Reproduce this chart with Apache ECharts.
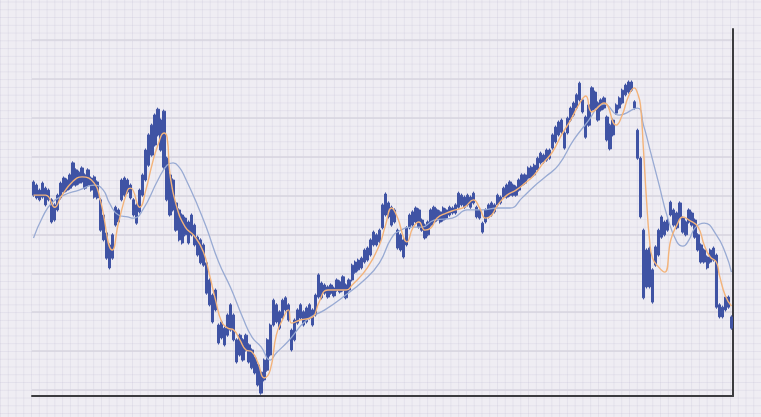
<!DOCTYPE html>
<html>
<head>
<meta charset="utf-8">
<script src="https://cdn.jsdelivr.net/npm/echarts@6/dist/echarts.min.js"></script>
<style>
html,body{margin:0;padding:0;}
body{
  width:761px;height:417px;overflow:hidden;
  background-color:#efedf3;
  background-image:
    linear-gradient(to right, rgba(190,186,210,0.24) 1px, transparent 1px),
    linear-gradient(to bottom, rgba(190,186,210,0.24) 1px, transparent 1px);
  background-size:7.78px 7.78px;
  background-position:0px 1.5px;
}
#chart{width:761px;height:417px;}
</style>
</head>
<body>
<div id="chart"></div>
<script>
// candle values: [open, close, low, high]
const candles = [
[53.5,50.1,49.7,53.9],[49.4,52.7,49.0,53.1],[51.4,48.9,48.5,51.8],[49.6,53.2,49.2,53.6],[51.9,47.6,47.2,52.3],
[48.9,51.4,48.5,51.8],[48.9,43.2,42.8,49.3],[43.7,47.6,43.3,48.0],[46.3,50.1,45.9,50.5],[49.4,53.2,49.0,53.6],
[50.9,54.5,50.5,54.9],[54.0,51.4,51.0,54.4],[51.9,55.3,51.5,55.7],[52.7,58.4,52.3,58.8],[56.6,52.7,52.3,57.0],
[53.2,56.0,52.8,56.4],[53.5,57.1,53.1,57.5],[55.3,51.9,51.5,55.7],[52.7,56.6,52.3,57.0],[54.5,51.4,51.0,54.9],
[49.6,54.8,49.2,55.2],[53.5,49.4,49.0,53.9],[48.9,41.1,40.7,49.3],[45.0,38.6,38.2,45.4],[40.4,33.9,33.5,40.8],
[37.3,31.4,31.0,37.7],[33.9,39.9,33.5,40.3],[42.4,47.0,42.0,47.4],[46.3,43.2,42.8,46.7],[48.9,54.0,48.5,54.4],
[50.1,54.5,49.7,54.9],[54.0,50.9,50.5,54.4],[52.7,49.4,49.0,53.1],[48.9,45.0,44.6,49.3],[47.6,42.9,42.5,48.0],
[45.8,51.4,45.4,51.8],[50.1,55.3,49.7,55.7],[54.0,61.7,53.6,62.1],[57.8,65.6,57.4,66.0],[60.4,68.1,60.0,68.5],
[63.0,70.7,62.6,71.1],[65.6,72.2,65.2,72.6],[69.4,61.7,61.3,69.8],[57.3,71.7,56.9,72.1],[59.6,48.9,48.5,60.0],
[55.3,45.0,44.6,55.7],[46.3,54.0,45.9,54.4],[48.1,41.1,40.7,48.5],[46.3,38.6,38.2,46.7],[37.8,45.0,37.4,45.4],
[44.2,39.9,39.5,44.6],[37.8,43.2,37.4,43.6],[39.9,45.0,39.5,45.4],[42.4,37.3,36.9,42.8],[39.3,34.7,34.3,39.7],
[38.6,32.7,32.3,39.0],[32.1,37.3,31.7,37.7],[32.7,24.9,24.5,33.1],[28.3,21.9,21.5,28.7],[24.4,17.5,17.1,24.8],
[20.6,25.7,20.2,26.1],[16.7,12.1,11.7,17.1],[13.4,17.5,13.0,17.9],[15.9,11.6,11.2,16.3],[14.1,19.3,13.7,19.7],
[15.4,21.9,15.0,22.3],[19.3,12.9,12.5,19.7],[12.9,7.2,6.8,13.3],[9.0,14.1,8.6,14.5],[12.9,7.7,7.3,13.3],
[10.3,14.1,9.9,14.5],[11.6,7.2,6.8,12.0],[10.3,5.7,5.3,10.7],[8.2,4.4,4.0,8.6],[6.4,1.3,0.9,6.8],
[4.6,-0.8,-1.2,5.0],[2.6,7.7,2.2,8.1],[5.1,12.9,4.7,13.3],[9.0,16.7,8.6,17.1],[16.7,23.1,16.3,23.5],
[21.9,17.5,17.1,22.3],[15.9,20.1,15.5,20.5],[18.5,23.1,18.1,23.5],[20.6,23.7,20.2,24.1],[21.9,18.0,17.6,22.3],
[15.4,10.3,9.9,15.8],[12.9,18.0,12.5,18.4],[17.2,20.6,16.8,21.0],[18.5,21.9,18.1,22.3],[20.1,16.7,16.3,20.5],
[17.5,21.1,17.1,21.5],[18.5,21.9,18.1,22.3],[20.6,16.7,16.3,21.0],[19.3,24.4,18.9,24.8],[23.9,29.6,23.5,30.0],
[27.5,23.7,23.3,27.9],[24.9,27.0,24.5,27.4],[26.5,23.9,23.5,26.9],[24.9,27.0,24.5,27.4],[26.2,24.2,23.8,26.6],
[25.7,28.3,25.3,28.7],[27.8,25.2,24.8,28.2],[25.7,29.1,25.3,29.5],[27.0,23.7,23.3,27.4],[25.7,28.3,25.3,28.7],
[28.3,32.1,27.9,32.5],[30.3,32.9,29.9,33.3],[30.9,33.4,30.5,33.8],[31.4,33.9,31.0,34.3],[32.9,36.0,32.5,36.4],
[36.5,33.4,33.0,36.9],[34.7,38.6,34.3,39.0],[37.3,40.6,36.9,41.0],[39.9,37.3,36.9,40.3],[38.1,41.1,37.7,41.5],
[41.7,47.6,41.3,48.0],[45.0,50.4,44.6,50.8],[48.1,44.5,44.1,48.5],[42.4,47.0,42.0,47.4],[46.3,43.2,42.8,46.7],
[41.1,36.5,36.1,41.5],[39.9,36.0,35.6,40.3],[38.6,34.2,33.8,39.0],[37.3,41.7,36.9,42.1],[41.7,45.0,41.3,45.4],
[42.4,45.8,42.0,46.2],[43.2,46.8,42.8,47.2],[46.3,41.9,41.5,46.7],[43.7,41.1,40.7,44.1],[42.4,39.1,38.7,42.8],
[39.9,43.2,39.5,43.6],[42.4,46.3,42.0,46.7],[43.2,47.0,42.8,47.4],[46.3,43.7,43.3,46.7],[43.2,45.8,42.8,46.2],
[43.7,46.8,43.3,47.2],[46.3,44.2,43.8,46.7],[45.0,47.0,44.6,47.4],[46.8,45.5,45.1,47.2],[45.5,47.6,45.1,48.0],
[47.0,50.6,46.6,51.0],[50.1,47.6,47.2,50.5],[47.0,49.6,46.6,50.0],[47.6,50.1,47.2,50.5],[49.6,47.0,46.6,50.0],
[48.1,50.6,47.7,51.0],[47.0,44.5,44.1,47.4],[46.3,44.2,43.8,46.7],[42.9,40.6,40.2,43.3],[43.2,46.3,42.8,46.7],
[44.5,47.6,44.1,48.0],[45.0,48.1,44.6,48.5],[47.6,45.8,45.4,48.0],[47.6,50.1,47.2,50.5],[48.1,49.6,47.7,50.0],
[49.6,51.9,49.2,52.3],[49.6,52.7,49.2,53.1],[50.1,53.5,49.7,53.9],[52.7,50.1,49.7,53.1],[50.1,52.2,49.7,52.6],
[51.4,54.0,51.0,54.4],[52.7,55.3,52.3,55.7],[55.3,53.2,52.8,55.7],[54.5,57.1,54.1,57.5],[54.8,57.3,54.4,57.7],
[57.8,55.3,54.9,58.2],[56.6,59.6,56.2,60.0],[58.4,60.9,58.0,61.3],[60.4,58.6,58.2,60.8],[59.1,61.7,58.7,62.1],
[61.7,59.6,59.2,62.1],[62.2,65.6,61.8,66.0],[63.8,67.6,63.4,68.0],[65.6,68.9,65.2,69.3],[66.3,69.4,65.9,69.8],
[66.1,62.2,61.8,66.5],[66.1,69.9,65.7,70.3],[69.4,72.5,69.0,72.9],[70.7,73.8,70.3,74.2],[72.5,75.9,72.1,76.3],
[74.6,78.9,74.2,79.3],[74.6,71.5,71.1,75.0],[70.2,65.0,64.6,70.6],[68.1,73.3,67.7,73.7],[72.0,77.7,71.6,78.1],
[76.6,72.5,72.1,77.0],[73.8,69.4,69.0,74.2],[72.0,74.6,71.6,75.0],[72.5,75.1,72.1,75.5],[70.2,64.3,63.9,70.6],
[68.1,62.0,61.6,68.5],[65.6,69.4,65.2,69.8],[71.2,73.3,70.8,73.7],[72.5,75.1,72.1,75.5],[73.8,77.1,73.4,77.5],
[75.9,78.4,75.5,78.8],[76.6,79.2,76.2,79.6],[79.2,77.1,76.7,79.6],[74.1,72.5,72.1,74.5],[66.8,59.6,59.2,67.2],
[59.6,44.5,44.1,60.0],[41.1,23.7,23.3,41.5],[26.5,36.0,26.1,36.4],[36.5,26.5,26.1,36.9],[30.9,22.6,22.2,31.3],
[32.1,36.8,31.7,37.2],[34.7,41.1,34.3,41.5],[39.3,44.5,38.9,44.9],[43.2,39.9,39.5,43.6],[41.1,43.7,40.7,44.1],
[45.0,48.3,44.6,48.7],[46.3,42.4,42.0,46.7],[45.5,41.7,41.3,45.9],[44.2,48.1,43.8,48.5],[44.2,40.6,40.2,44.6],
[39.9,43.2,39.5,43.6],[43.2,46.3,42.8,46.7],[45.5,42.4,42.0,45.9],[43.7,39.3,38.9,44.1],[39.9,36.0,35.6,40.3],
[37.3,32.9,32.5,37.7],[32.9,36.0,32.5,36.4],[34.2,31.4,31.0,34.6],[32.9,36.0,32.5,36.4],[36.5,33.4,33.0,36.9],
[34.7,21.3,20.9,35.1],[21.9,18.8,18.4,22.3],[18.8,21.3,18.4,21.7],[20.6,23.9,20.2,24.3],[23.9,21.3,20.9,24.3],
[18.8,15.9,15.5,19.2]
];

// short moving average: [candle index, value]
const maShort = [
[0,50.1],[4,50.1],[7,47.0],[9,49.6],[13,53.7],[16,54.8],[20,53.2],[22,48.9],[26,36.0],[28,43.0],
[31,51.4],[32,51.9],[35,47.0],[37,51.4],[39,57.8],[41,63.0],[43,66.1],[44,65.0],[45,55.3],[47,47.6],
[50,41.9],[53,39.6],[56,35.5],[58,29.6],[60,23.1],[62,17.5],[64,15.9],[66,15.4],[68,12.9],[70,10.3],
[72,9.8],[74,6.9],[76,3.1],[78,5.1],[80,14.1],[82,18.0],[84,20.6],[85,17.2],[88,18.0],[92,18.8],
[94,22.4],[97,25.7],[103,25.7],[105,27.0],[110,31.4],[114,37.3],[116,42.4],[118,46.8],[120,44.2],[122,39.1],
[123,38.1],[125,41.7],[127,43.2],[129,41.1],[131,41.7],[133,44.2],[136,45.5],[139,46.3],[142,47.0],[145,48.9],
[147,46.8],[149,44.2],[151,45.0],[153,47.6],[156,50.1],[159,51.4],[162,53.2],[165,55.3],[168,58.4],[171,61.2],
[174,65.6],[177,69.4],[180,73.8],[182,75.6],[184,71.5],[188,73.8],[192,68.1],[194,70.7],[196,75.4],[198,77.7],
[199,76.4],[200,73.3],[201,61.7],[202,48.9],[203,38.6],[204,33.9],[206,31.6],[208,30.3],[210,38.6],[212,42.4],
[214,44.5],[216,43.7],[219,41.9],[221,37.3],[223,34.2],[225,32.9],[226,29.6],[228,24.2],[230,21.6]
];

// long moving average: [candle index, value]
const maLong = [
[0,39.1],[3,44.5],[6,48.1],[10,50.1],[15,51.4],[20,52.7],[23,51.4],[25,48.1],[28,45.0],[31,44.5],
[33,44.2],[36,46.3],[41,54.0],[44,57.8],[46,58.4],[48,57.3],[50,54.5],[54,47.6],[57,41.7],[61,32.9],
[65,26.2],[69,18.5],[72,13.6],[75,11.1],[78,7.7],[80,9.5],[84,12.6],[90,18.0],[96,20.6],[102,23.9],
[109,28.3],[114,32.7],[118,39.1],[121,41.1],[125,41.9],[128,41.9],[132,43.7],[138,44.2],[143,46.3],[148,46.3],
[153,46.8],[157,46.8],[161,49.4],[165,52.4],[169,55.0],[173,57.8],[178,64.3],[183,69.4],[186,72.8],[188,73.5],
[193,70.7],[199,72.5],[201,68.1],[203,62.2],[206,53.2],[209,44.2],[212,38.1],[214,37.0],[216,38.6],[218,41.7],
[221,42.9],[225,39.9],[228,35.2],[230,30.3]
];

const categories = candles.map((_, i) => String(i + 1));
const yTicks = { min: 0, max: 90, step: 10 };

const chart = echarts.init(document.getElementById('chart'), null, { renderer: 'canvas' });
const candleBlue = '#3f53a4';
const frameColor = '#3b3b3f';

chart.setOption({
  backgroundColor: 'transparent',
  animation: false,
  grid: [
    { left: 32, right: 28, top: 40, bottom: 27 },
    { left: 32, right: 28, top: 29, bottom: 21 }
  ],
  xAxis: [
    {
      type: 'category', data: categories, boundaryGap: true, gridIndex: 0,
      axisLine: { show: false }, axisTick: { show: false }, axisLabel: { show: false },
      splitLine: { show: false }
    },
    {
      type: 'value', gridIndex: 1, min: 0, max: 1,
      axisLine: { show: true, onZero: false, lineStyle: { color: frameColor, width: 2 } },
      axisTick: { show: false }, axisLabel: { show: false }, splitLine: { show: false }
    }
  ],
  yAxis: [
    {
      type: 'value', gridIndex: 0, position: 'right',
      min: yTicks.min, max: yTicks.max, interval: yTicks.step,
      axisLine: { show: false }, axisTick: { show: false }, axisLabel: { show: false },
      splitLine: { show: true, lineStyle: { color: '#d7d5df', width: 1.5 } }
    },
    {
      type: 'value', gridIndex: 1, position: 'right', min: 0, max: 1,
      axisLine: { show: true, onZero: false, lineStyle: { color: frameColor, width: 2 } },
      axisTick: { show: false }, axisLabel: { show: false }, splitLine: { show: false }
    }
  ],
  series: [
    {
      type: 'candlestick', xAxisIndex: 0, yAxisIndex: 0,
      data: candles, clip: false, barWidth: '92%',
      itemStyle: {
        color: candleBlue, color0: candleBlue,
        borderColor: candleBlue, borderColor0: candleBlue, borderWidth: 1
      }
    },
    {
      type: 'line', xAxisIndex: 0, yAxisIndex: 0, data: maLong,
      smooth: true, showSymbol: false, symbol: 'none',
      lineStyle: { color: '#98aad3', width: 1.3 }, z: 3
    },
    {
      type: 'line', xAxisIndex: 0, yAxisIndex: 0, data: maShort,
      smooth: true, showSymbol: false, symbol: 'none',
      lineStyle: { color: '#f3b37a', width: 1.4 }, z: 4
    }
  ]
});
</script>
</body>
</html>
